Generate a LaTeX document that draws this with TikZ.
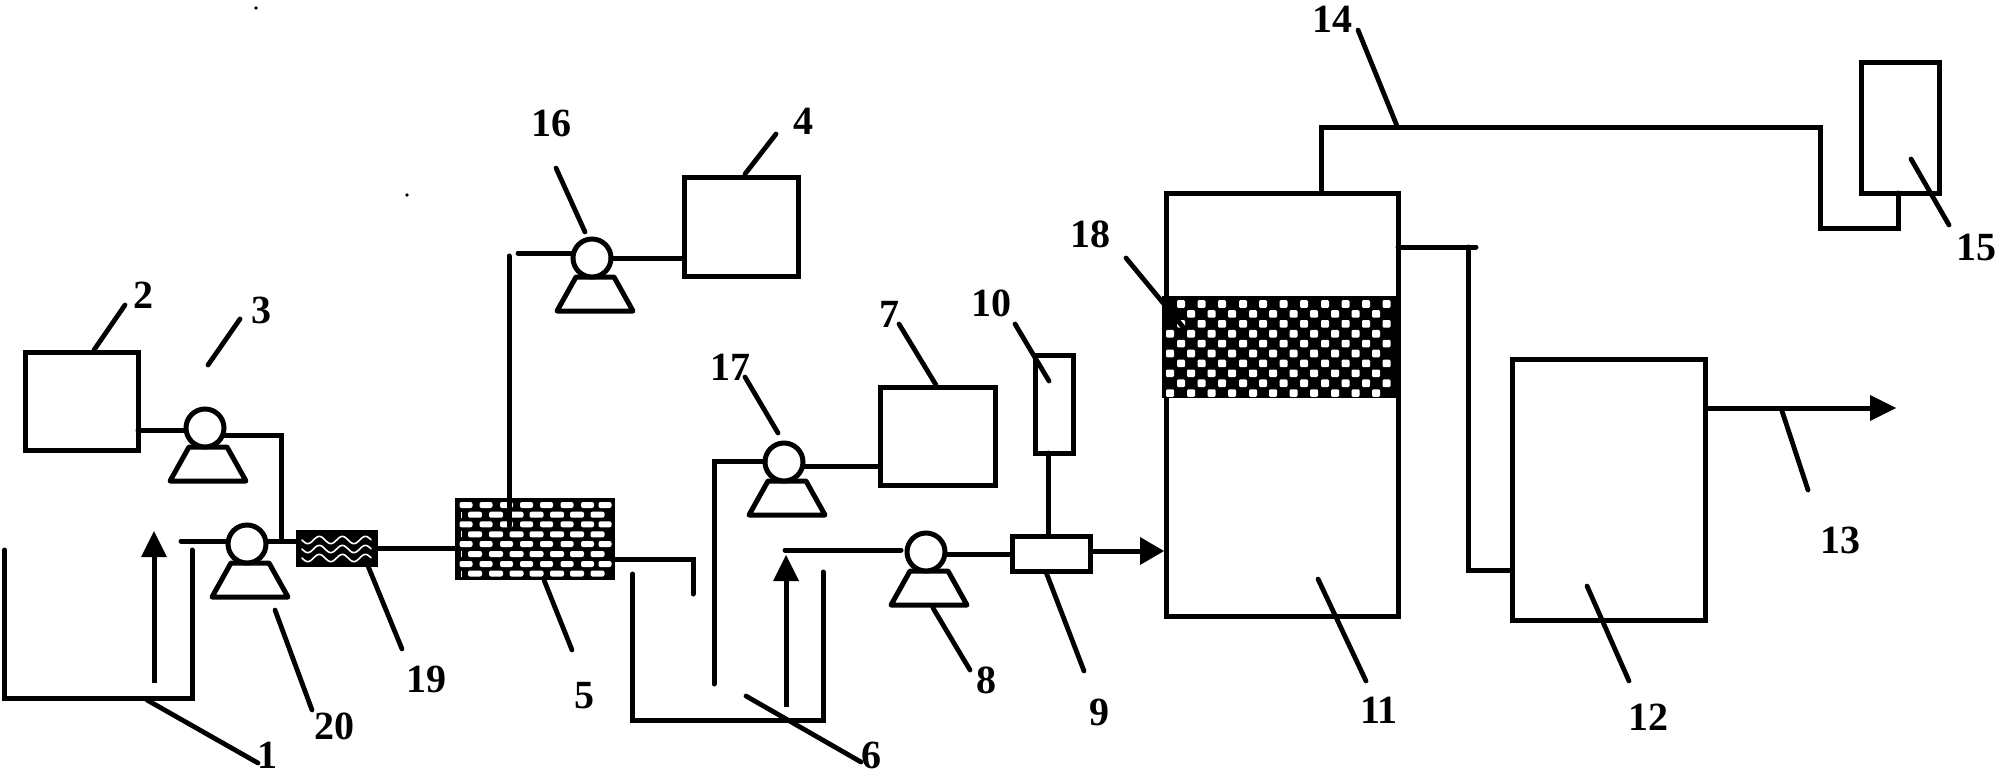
\documentclass[tikz,border=0pt]{standalone}
\usepackage{fontspec}
\setmainfont{Liberation Serif}
\usetikzlibrary{arrows.meta}
\tikzset{
  boxst/.style={draw=black,line width=5pt,rectangle,inner sep=0pt,outer sep=0pt,fill=white},
  blackst/.style={draw=black,line width=3pt,rectangle,inner sep=0pt,outer sep=0pt,fill=black},
  pumpc/.style={draw=black,line width=5pt,circle,minimum size=38pt,inner sep=0pt,outer sep=0pt,fill=white},
  pipe/.style={draw=black,line width=5pt,line cap=round,line join=miter},
  leaderln/.style={draw=black,line width=4.8pt,line cap=round},
  flow/.style={pipe,line cap=butt},
  lab/.style={inner sep=0pt,font=\fontsize{40}{40}\selectfont\bfseries}
}
\newcommand{\bx}[5]{\node[boxst,minimum width={(#4-#2)*1pt},minimum height={(#5-#3)*1pt}] (#1) at ({(#2+#4)/2},{(#3+#5)/2}) {};}
\newcommand{\pumpat}[3]{%
  \draw[pipe,line join=round,fill=white] (#2-16,#3+19) -- (#2+22,#3+19) -- (#2+41,#3+53) -- (#2-35,#3+53) -- cycle;
  \node[pumpc] (#1) at (#2,#3) {};}
\newcommand{\leaderl}[5]{\coordinate (#1a) at (#2,#3); \coordinate (#1b) at (#4,#5); \draw[leaderln] (#1a) -- (#1b);}
\begin{document}
\begin{tikzpicture}[x=1pt,y=-1pt]
\useasboundingbox (0,0) rectangle (1996,777);
\fill[white] (0,0) rectangle (1996,777);
% specks
\fill[black] (256,8) circle (1.8pt);
\fill[black] (407,195) circle (1.8pt);
% plain boxes
\bx{b2}{25}{352}{138}{450}
\bx{b4}{684}{177}{798}{276}
\bx{b7}{880}{387}{995}{485}
\bx{b10}{1035}{355}{1073}{453}
\bx{b9}{1012}{536}{1090}{571}
\bx{b11}{1166}{193}{1398}{616}
\bx{b12}{1512}{359}{1705}{620}
\bx{b15}{1861}{62}{1939}{193}
% tank 1 and tank 6
\draw[pipe,line join=miter] (4.5,550) -- (4.5,698) -- (192,698) -- (192,550);
\draw[pipe,line join=miter] (632.6,574) -- (632.6,720) -- (823,720) -- (823,572);
% pumps
\pumpat{p3}{205}{428}
\pumpat{p20}{247}{544}
\pumpat{p16}{592}{258}
\pumpat{p17}{784}{462}
\pumpat{p8}{926}{552}
% filter 19
\node[blackst,minimum width=79pt,minimum height=34pt] (f19) at (336.5,548) {};
\foreach \yy in {540,549,558}{
  \draw[white,line width=1.6pt,line cap=round] plot[domain=302:371,samples=70,smooth] (\x,{\yy+3.6*sin(15.6*(\x-302))});
}
% bed 5
\node[blackst,minimum width=157pt,minimum height=79pt] (f5) at (535,539) {};
\foreach \yy in {505,524.3,544,564}{
  \foreach \xx in {466,486,506.5,526.5,546.5,567,587.5,605}{
    \fill[white,rounded corners=2pt] (\xx-6.5,\yy-3) rectangle (\xx+6.5,\yy+3);
  }
}
\foreach \yy in {514.7,534.3,554,573.5}{
  \fill[white] (460.5,\yy-3) rectangle (462,\yy+3);
  \foreach \xx in {475,496,516.5,536.5,557,577,597.5}{
    \fill[white,rounded corners=2pt] (\xx-7,\yy-3) rectangle (\xx+7,\yy+3);
  }
}
% packing 18
\node[blackst,minimum width=236pt,minimum height=99pt] (f18) at (1281,347) {};
\foreach \i in {0,2,4,6,8}{
  \foreach \xx in {1181,1201.5,1222,1243,1263,1283.5,1304,1325,1345.5,1366,1386.5}{
    \fill[white,rounded corners=1.2pt] (\xx-4,{304+9.9*\i-3.8}) rectangle (\xx+4,{304+9.9*\i+3.8});
  }
}
\foreach \i in {1,3,5,7,9}{
  \foreach \xx in {1191,1211.5,1232,1253,1273,1293.5,1314,1335,1355.5,1376}{
    \fill[white,rounded corners=1.2pt] (\xx-4,{304+9.9*\i-3.8}) rectangle (\xx+4,{304+9.9*\i+3.8});
  }
}
\foreach \i in {3,5,7,9}{
  \fill[white,rounded corners=1.2pt] (1166,{304+9.9*\i-3.8}) rectangle (1174,{304+9.9*\i+3.8});
}
% pipes
\draw[pipe] (b2.east |- p3.west) ++(0,2) coordinate (b2o) -- (p3.west |- b2o);
\coordinate (j3) at (p3.east |- 0,435);
\draw[pipe,line join=miter] (j3) -- (281,435) coordinate (j3b) -- (281,541) coordinate (j3c);
\coordinate (s20) at (181,541);
\draw[pipe] (s20) -- (p20.west |- s20);
\draw[pipe] (p20.east |- s20) -- (f19.west |- s20);
\coordinate (s5) at (f19.east);
\draw[pipe] (s5) -- (s5 -| f5.west);
\coordinate (v16b) at (509,526);
\coordinate (v16t) at (509,256);
\draw[pipe] (v16b) -- (v16t);
\coordinate (h16) at (518,253);
\draw[pipe] (h16) -- (p16.west |- h16);
\draw[pipe] (p16.east) -- (p16.east -| b4.west);
\coordinate (o5) at (f5.east |- 0,559);
\draw[pipe,line join=miter] (o5) -- (693,559) coordinate (o5b) -- (693,594);
\coordinate (t17) at (714,684);
\coordinate (h17) at (714,461);
\draw[pipe,line join=miter] (t17) -- (h17) -- (p17.west |- h17);
\draw[pipe] (p17.east) ++(0,4) coordinate (p17o) -- (b7.west |- p17o);
\coordinate (s8) at (785,550);
\draw[pipe] (s8) -- (901,550);
\draw[pipe] (p8.east) ++(0,2) coordinate (p8o) -- (b9.west |- p8o);
\coordinate (d10a) at (1048,453);
\coordinate (d10b) at (1048,534);
\draw[pipe] (d10a) -- (d10b);
% arrows
\coordinate (a1t) at (154,531);
\coordinate (a1b) at (154,683);
\draw[flow] (a1b) -- (154,545);
\fill[black] (a1t) -- (167,557) -- (141,557) -- cycle;
\coordinate (a6t) at (786,555);
\coordinate (a6b) at (786,707);
\draw[flow] (a6b) -- (786,570);
\fill[black] (a6t) -- (799,581) -- (773,581) -- cycle;
\coordinate (a9) at (1164,551);
\draw[flow] (b9.east |- a9) -- (1145,551);
\fill[black] (a9) -- (1140,537) -- (1140,565) -- cycle;
\coordinate (a13) at (1896,408);
\draw[flow] (b12.east |- a13) -- (1875,408);
\fill[black] (a13) -- (1870,395) -- (1870,421) -- cycle;
% gas line 14
\draw[pipe,line join=miter] (1321,193) -- (1321,127) -- (1820,127) -- (1820,228) -- (1898,228) -- (1898,193);
% overflow 11 to 12
\draw[pipe,line join=miter] (1398,247) -- (1476,247);
\draw[pipe,line join=miter] (1468,247) -- (1468,570) -- (1512,570);
% leader lines
\leaderl{L1}{147}{700}{258}{763}
\leaderl{L2}{94}{350}{125}{305}
\leaderl{L3}{208}{365}{240}{319}
\leaderl{L4}{745}{174}{776}{134}
\leaderl{L5}{544}{580}{572}{650}
\leaderl{L6}{746}{696}{861}{762}
\leaderl{L7}{936}{385}{899}{324}
\leaderl{L8}{933}{608}{970}{670}
\leaderl{L9}{1046}{572}{1084}{671}
\leaderl{L10}{1015}{324}{1049}{381}
\leaderl{L11}{1318}{579}{1366}{681}
\leaderl{L12}{1587}{586}{1629}{681}
\leaderl{L13}{1782}{411}{1808}{490}
\leaderl{L14}{1358}{30}{1397}{126}
\leaderl{L15}{1911}{159}{1949}{225}
\leaderl{L16}{556}{168}{585}{232}
\leaderl{L17}{745}{377}{778}{433}
\leaderl{L18}{1126}{258}{1183}{327}
\leaderl{L19}{368}{566}{402}{649}
\leaderl{L20}{275}{610}{312}{710}
% labels
\node[lab] (t1) at (267,755) {1};
\node[lab] (t2) at (143,295) {2};
\node[lab] (t3) at (261,310) {3};
\node[lab] (t4) at (803,121) {4};
\node[lab] (t5) at (584,696) {5};
\node[lab] (t6) at (871,755) {6};
\node[lab] (t7) at (889,314) {7};
\node[lab] (t8) at (986,680) {8};
\node[lab] (t9) at (1099,712) {9};
\node[lab] (t10) at (991,303) {10};
\node[lab] (t11) at (1379,710) {11};
\node[lab] (t12) at (1648,717) {12};
\node[lab] (t13) at (1840,540) {13};
\node[lab] (t14) at (1332,19) {14};
\node[lab] (t15) at (1976,247) {15};
\node[lab] (t16) at (551,123) {16};
\node[lab] (t17) at (730,367) {17};
\node[lab] (t18) at (1090,234) {18};
\node[lab] (t19) at (426,679) {19};
\node[lab] (t20) at (334,726) {20};
\end{tikzpicture}
\end{document}
